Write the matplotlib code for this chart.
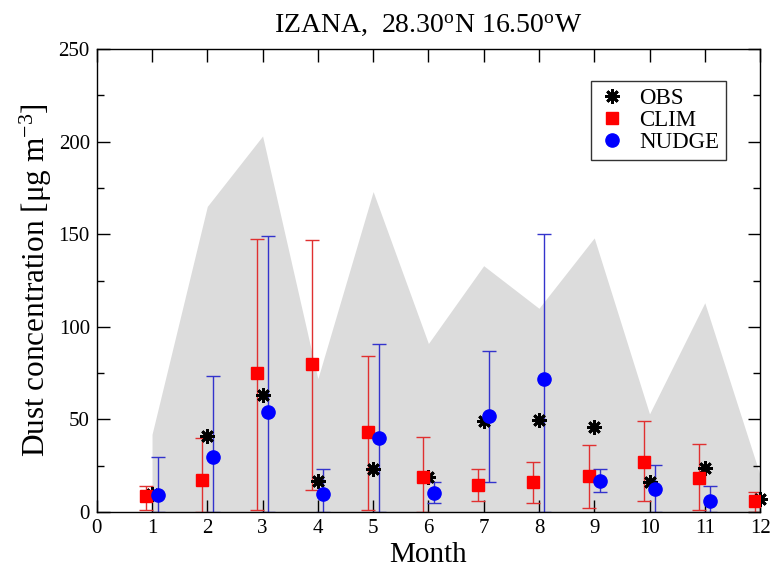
import numpy as np
import matplotlib
matplotlib.use("Agg")
import matplotlib.pyplot as plt
from matplotlib.ticker import MultipleLocator

# valores (ug m-3)
meses = np.arange(1, 13)
faixa_topo = [42, 165, 203, 72, 173, 91, 133, 110, 148, 53, 113, 20]

obs = [10, 41, 63, 17, 23, 19, 49, 49.5, 46, 16.5, 24, 7]

clim = [8.5, 17.5, 75, 80, 43, 19, 14.5, 16, 19.5, 27, 18.5, 6]
clim_sup = [14, 40, 147.5, 147, 84, 40.5, 23, 27, 36, 49, 36.5, 11]
clim_inf = [1, 0, 1, 12, 1, 0, 6, 5, 2, 6, 1, 0]

nudge = [9, 29.5, 54, 10, 40, 10.5, 52, 72, 17, 12.5, 6, np.nan]
nudge_sup = [30, 73.5, 149, 23.5, 90.5, 16.5, 87, 150, 23, 25.5, 14, np.nan]
nudge_inf = [0, 0, 0, 0, 0, 5, 16.5, 0, 11, 0, 0, np.nan]

plt.rcParams["font.family"] = ["Liberation Serif", "DejaVu Serif"]
plt.rcParams["mathtext.fontset"] = "custom"
plt.rcParams["mathtext.rm"] = "Liberation Serif"
plt.rcParams["mathtext.it"] = "Liberation Serif:italic"

fig = plt.figure(figsize=(7.74, 5.69), dpi=100)
ax = fig.add_axes([0.125, 0.100, 0.857, 0.814])

x = np.array(meses, dtype=float)
ax.fill_between(x, 0, faixa_topo, color="#dcdcdc", linewidth=0, zorder=1)

def barras(xs, y, inf, sup, cor):
    y = np.array(y, dtype=float)
    err = [y - np.array(inf, dtype=float), np.array(sup, dtype=float) - y]
    ax.errorbar(xs, y, yerr=err, fmt="none", ecolor=cor, elinewidth=1.0,
                capsize=4.8, capthick=1.0, zorder=2)

barras(x - 0.1, clim, clim_inf, clim_sup, "#e03030")
barras(x + 0.1, nudge, nudge_inf, nudge_sup, "#3333cc")

ax.plot(x, obs, linestyle="none", marker=(8, 2, 0), markersize=10.5,
        markeredgewidth=2, color="black", label="OBS", zorder=3, clip_on=False)
ax.plot(x - 0.1, clim, linestyle="none", marker="s", markersize=9,
        color="#ff0000", label="CLIM", zorder=4)
ax.plot(x + 0.1, nudge, linestyle="none", marker="o", markersize=9.5,
        color="#0000ff", label="NUDGE", zorder=5)

ax.set_xlim(0, 12)
ax.set_ylim(0, 250)
ax.set_xticks(np.arange(0, 13))
ax.yaxis.set_major_locator(MultipleLocator(50))
ax.yaxis.set_minor_locator(MultipleLocator(25))
ax.tick_params(which="both", direction="in", top=True, right=True, labelsize=15, pad=5)
ax.tick_params(which="major", length=9, width=1)
ax.tick_params(which="minor", length=5, width=1)
for s in ax.spines.values():
    s.set_linewidth(1.0)

ax.set_xlabel("Month", fontsize=21, labelpad=3)
ax.set_ylabel("Dust concentration [μg m$^{-3}$]", fontsize=22.5, labelpad=3)
ax.set_title("IZANA,  28.30$^{\\rm o}$N 16.50$^{\\rm o}$W", fontsize=20, pad=12)

leg = ax.legend(loc="upper right", bbox_to_anchor=(0.949, 0.931), fontsize=16.5,
                frameon=True, fancybox=False, borderpad=0.3, labelspacing=0.05,
                handletextpad=0.6, handlelength=1.2, borderaxespad=0)
leg.get_frame().set_edgecolor("black")
leg.get_frame().set_linewidth(1.0)

fig.savefig("out.png", dpi=100)
